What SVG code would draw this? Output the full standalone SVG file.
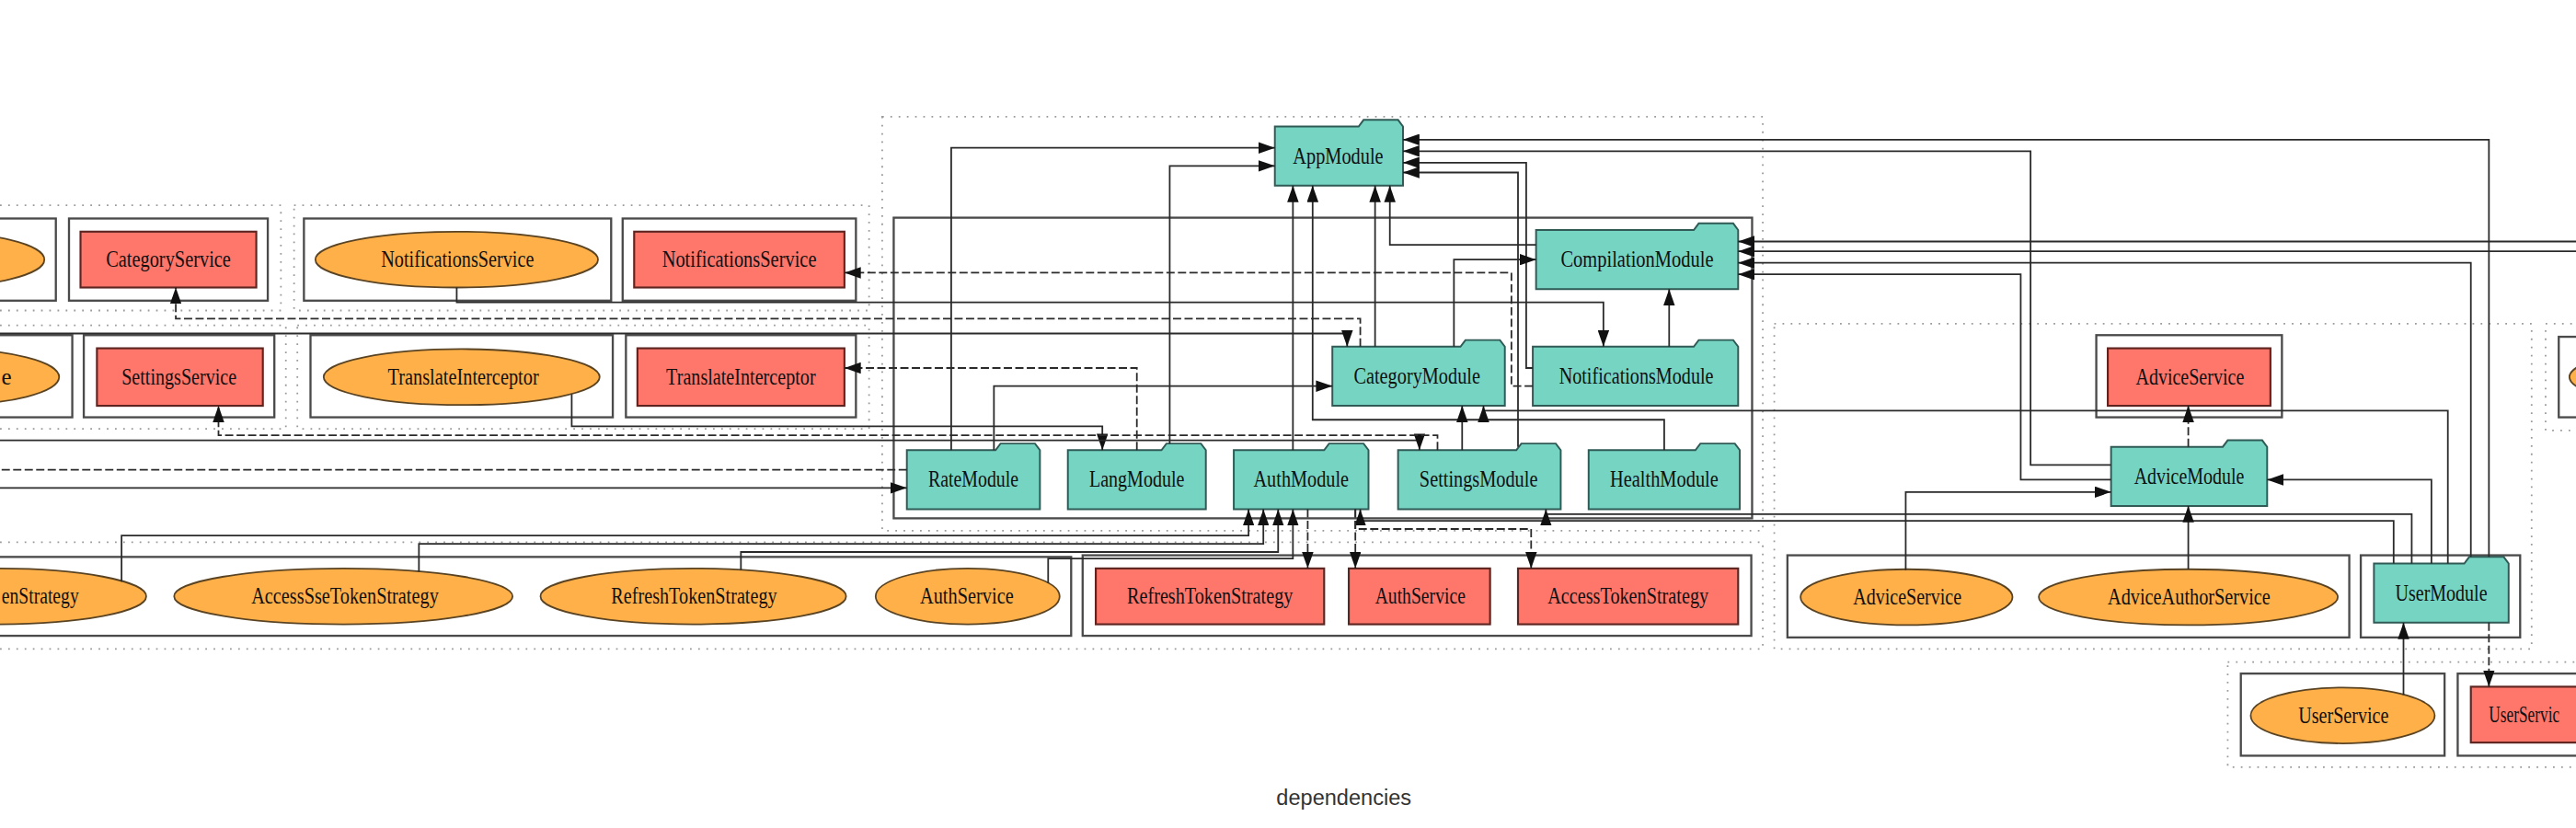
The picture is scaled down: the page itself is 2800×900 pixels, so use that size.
<svg xmlns="http://www.w3.org/2000/svg" width="2800" height="900" viewBox="0 0 2800 900">
<defs>
<style>
.cl{fill:none;stroke:#9a9a9a;stroke-width:1;stroke-dasharray:1 4}
.sr{fill:none;stroke:#4a4a4a;stroke-width:1.3}
.mod{fill:#76d4c3;stroke:#2f5a55;stroke-width:1.1}
.exp{fill:#ff766b;stroke:#5e2520;stroke-width:1.2}
.prv{fill:#ffb049;stroke:#5a4322;stroke-width:1}
.t{font-family:"Liberation Serif","Times New Roman",serif;font-size:14px;fill:#111;text-anchor:middle}
.e{fill:none;stroke:#2a2a2a;stroke-width:1}
.d{stroke-dasharray:5 2}
.lbl{font-family:"Liberation Sans",Arial,sans-serif;font-size:13.2px;fill:#333;text-anchor:middle}
</style>
<marker id="a" markerUnits="userSpaceOnUse" viewBox="0 0 10 7" markerWidth="10" markerHeight="7" refX="10" refY="3.5" orient="auto"><path d="M0,0L10,3.5L0,7z" fill="#111"/></marker>
</defs>
<rect width="2800" height="900" fill="#fff"/>
<g transform="scale(1.785714)">
<g id="clusters">
<rect class="cl" x="-10" y="125" width="181" height="64"/>
<rect class="cl" x="179" y="125" width="350" height="64"/>
<rect class="cl" x="-10" y="198" width="184" height="63"/>
<rect class="cl" x="181" y="198" width="348" height="63"/>
<rect class="cl" x="537" y="71" width="536" height="252"/>
<rect class="cl" x="-10" y="330" width="1083" height="65"/>
<rect class="cl" x="1080" y="197" width="461" height="198"/>
<rect class="cl" x="1549.5" y="197" width="60" height="65"/>
<rect class="cl" x="1356" y="403" width="260" height="64"/>
<rect class="sr" x="-10" y="133" width="44" height="50"/>
<rect class="sr" x="42" y="133" width="121" height="50"/>
<rect class="sr" x="185" y="133" width="187" height="50"/>
<rect class="sr" x="379" y="133" width="142" height="50"/>
<rect class="sr" x="-10" y="204" width="54" height="50"/>
<rect class="sr" x="51" y="204" width="116" height="50"/>
<rect class="sr" x="189" y="204" width="184" height="50"/>
<rect class="sr" x="381" y="204" width="140" height="50"/>
<rect class="sr" x="544" y="132.5" width="522.5" height="183"/>
<rect class="sr" x="-10" y="339" width="662" height="48"/>
<rect class="sr" x="659" y="338" width="407" height="49"/>
<rect class="sr" x="1276" y="204" width="113" height="50"/>
<rect class="sr" x="1088" y="338" width="342" height="50"/>
<rect class="sr" x="1437" y="338" width="97" height="50"/>
<rect class="sr" x="1364" y="410" width="124" height="50"/>
<rect class="sr" x="1496" y="410" width="110" height="50"/>
<rect class="sr" x="1557.5" y="205" width="50" height="49"/>
</g>
<g id="AppModule"><path class="mod" d="M776,77H827L830,73H851L854,77V113H776Z"/><text class="t" x="814.5" y="99.5" textLength="55" lengthAdjust="spacingAndGlyphs">AppModule</text></g>
<g id="CompilationModule"><path class="mod" d="M935,140H1031L1034,136H1055L1058,140V176H935Z"/><text class="t" x="996.5" y="162.5" textLength="93" lengthAdjust="spacingAndGlyphs">CompilationModule</text></g>
<g id="CategoryModule"><path class="mod" d="M811,211H889L892,207H913L916,211V247H811Z"/><text class="t" x="862.5" y="233.5" textLength="77" lengthAdjust="spacingAndGlyphs">CategoryModule</text></g>
<g id="NotificationsModule"><path class="mod" d="M933,211H1031L1034,207H1055L1058,211V247H933Z"/><text class="t" x="996" y="233.5" textLength="94" lengthAdjust="spacingAndGlyphs">NotificationsModule</text></g>
<g id="RateModule"><path class="mod" d="M552,274H606L609,270H630L633,274V310H552Z"/><text class="t" x="592.5" y="296.5" textLength="55" lengthAdjust="spacingAndGlyphs">RateModule</text></g>
<g id="LangModule"><path class="mod" d="M650,274H707L710,270H731L734,274V310H650Z"/><text class="t" x="692" y="296.5" textLength="58" lengthAdjust="spacingAndGlyphs">LangModule</text></g>
<g id="AuthModule"><path class="mod" d="M751,274H806L809,270H830L833,274V310H751Z"/><text class="t" x="792" y="296.5" textLength="58" lengthAdjust="spacingAndGlyphs">AuthModule</text></g>
<g id="SettingsModule"><path class="mod" d="M851,274H923L926,270H947L950,274V310H851Z"/><text class="t" x="900" y="296.5" textLength="72" lengthAdjust="spacingAndGlyphs">SettingsModule</text></g>
<g id="HealthModule"><path class="mod" d="M967,274H1032L1035,270H1056L1059,274V310H967Z"/><text class="t" x="1013" y="296.5" textLength="66" lengthAdjust="spacingAndGlyphs">HealthModule</text></g>
<g id="AdviceModule"><path class="mod" d="M1285,272H1353L1356,268H1377L1380,272V308H1285Z"/><text class="t" x="1332.5" y="294.5" textLength="67" lengthAdjust="spacingAndGlyphs">AdviceModule</text></g>
<g id="UserModule"><path class="mod" d="M1445,343H1500L1503,339H1524L1527,343V379H1445Z"/><text class="t" x="1486" y="365.5" textLength="56" lengthAdjust="spacingAndGlyphs">UserModule</text></g>
<g id="CategoryService-export"><rect class="exp" x="49" y="141" width="107" height="34"/><text class="t" x="102.5" y="162.5" textLength="76" lengthAdjust="spacingAndGlyphs">CategoryService</text></g>
<g id="NotificationsService-export"><rect class="exp" x="386" y="141" width="128" height="34"/><text class="t" x="450" y="162.5" textLength="94" lengthAdjust="spacingAndGlyphs">NotificationsService</text></g>
<g id="SettingsService-export"><rect class="exp" x="59" y="212" width="101" height="35"/><text class="t" x="109" y="234" textLength="70" lengthAdjust="spacingAndGlyphs">SettingsService</text></g>
<g id="TranslateInterceptor-export"><rect class="exp" x="388" y="212" width="126" height="35"/><text class="t" x="451" y="234" textLength="91" lengthAdjust="spacingAndGlyphs">TranslateInterceptor</text></g>
<g id="RefreshTokenStrategy-export"><rect class="exp" x="667" y="346" width="139" height="34"/><text class="t" x="736.5" y="367.5" textLength="101" lengthAdjust="spacingAndGlyphs">RefreshTokenStrategy</text></g>
<g id="AuthService-export"><rect class="exp" x="821" y="346" width="86" height="34"/><text class="t" x="864.5" y="367.5" textLength="55" lengthAdjust="spacingAndGlyphs">AuthService</text></g>
<g id="AccessTokenStrategy-export"><rect class="exp" x="924" y="346" width="134" height="34"/><text class="t" x="991" y="367.5" textLength="98" lengthAdjust="spacingAndGlyphs">AccessTokenStrategy</text></g>
<g id="AdviceService-export"><rect class="exp" x="1283" y="212" width="99" height="35"/><text class="t" x="1333" y="234" textLength="66" lengthAdjust="spacingAndGlyphs">AdviceService</text></g>
<g id="UserService-export"><rect class="exp" x="1504" y="418" width="86" height="34"/><text class="t" x="1515" y="439.5" style="text-anchor:start" textLength="43" lengthAdjust="spacingAndGlyphs">UserServic</text></g>
<g id="CategoryService-provider"><ellipse class="prv" cx="-45" cy="158" rx="72" ry="17"/></g>
<g id="NotificationsService-provider"><ellipse class="prv" cx="278" cy="158" rx="86" ry="17"/><text class="t" x="278.5" y="162.5" textLength="93" lengthAdjust="spacingAndGlyphs">NotificationsService</text></g>
<g id="SettingsService-provider"><ellipse class="prv" cx="-32" cy="229.5" rx="68" ry="17"/><text class="t" x="0.8" y="234" style="text-anchor:start">e</text></g>
<g id="TranslateInterceptor-provider"><ellipse class="prv" cx="281" cy="229.5" rx="84" ry="17"/><text class="t" x="282" y="234" textLength="92" lengthAdjust="spacingAndGlyphs">TranslateInterceptor</text></g>
<g id="AccessTokenStrategy-provider"><ellipse class="prv" cx="-1" cy="363" rx="90" ry="17"/><text class="t" x="48" y="367.5" style="text-anchor:end" textLength="47" lengthAdjust="spacingAndGlyphs">enStrategy</text></g>
<g id="AccessSseTokenStrategy-provider"><ellipse class="prv" cx="209" cy="363" rx="103" ry="17"/><text class="t" x="210" y="367.5" textLength="114" lengthAdjust="spacingAndGlyphs">AccessSseTokenStrategy</text></g>
<g id="RefreshTokenStrategy-provider"><ellipse class="prv" cx="422" cy="363" rx="93" ry="17"/><text class="t" x="422.5" y="367.5" textLength="101" lengthAdjust="spacingAndGlyphs">RefreshTokenStrategy</text></g>
<g id="AuthService-provider"><ellipse class="prv" cx="589" cy="363" rx="56" ry="17"/><text class="t" x="588.5" y="367.5" textLength="57" lengthAdjust="spacingAndGlyphs">AuthService</text></g>
<g id="AdviceService-provider"><ellipse class="prv" cx="1160.5" cy="363.5" rx="64.5" ry="17"/><text class="t" x="1161" y="368" textLength="66" lengthAdjust="spacingAndGlyphs">AdviceService</text></g>
<g id="AdviceAuthorService-provider"><ellipse class="prv" cx="1332" cy="363.5" rx="91" ry="17"/><text class="t" x="1332.5" y="368" textLength="99" lengthAdjust="spacingAndGlyphs">AdviceAuthorService</text></g>
<g id="UserService-provider"><ellipse class="prv" cx="1426" cy="435.5" rx="56" ry="17"/><text class="t" x="1426.5" y="440" textLength="55" lengthAdjust="spacingAndGlyphs">UserService</text></g>
<g id="RightPartial-provider"><ellipse class="prv" cx="1640" cy="229.5" rx="76" ry="17"/></g>
<g id="connectors">
<path class="e" marker-end="url(#a)" d="M579,274V90H776"/>
<path class="e" marker-end="url(#a)" d="M712,270V101H776"/>
<path class="e" marker-end="url(#a)" d="M787,274V113"/>
<path class="e" marker-end="url(#a)" d="M1013,274V255.5H799V113"/>
<path class="e" marker-end="url(#a)" d="M837,211V113"/>
<path class="e" marker-end="url(#a)" d="M935,149H846V113"/>
<path class="e" marker-end="url(#a)" d="M1515,339V85H854"/>
<path class="e" marker-end="url(#a)" d="M1285,283H1236V92H854"/>
<path class="e" marker-end="url(#a)" d="M933,224H929V99H854"/>
<path class="e" marker-end="url(#a)" d="M924,272V105H854"/>
<path class="e" marker-end="url(#a)" d="M885,211V158H935"/>
<path class="e" marker-end="url(#a)" d="M1016,211V176"/>
<path class="e" marker-end="url(#a)" d="M1504,339V160H1058"/>
<path class="e" marker-end="url(#a)" d="M1285,292H1230V167H1058"/>
<path class="e" marker-end="url(#a)" d="M1600,147H1058"/>
<path class="e" marker-end="url(#a)" d="M1600,153H1058"/>
<path class="e" marker-end="url(#a)" d="M605,274V235H811"/>
<path class="e" marker-end="url(#a)" d="M890,274V247"/>
<path class="e" marker-end="url(#a)" d="M1490,343V250H903V247"/>
<path class="e" marker-end="url(#a)" d="M-10,203H820V211"/>
<path class="e" marker-end="url(#a)" d="M278,175V184H976V211"/>
<path class="e" marker-end="url(#a)" d="M348,240V259.5H671V274"/>
<path class="e" marker-end="url(#a)" d="M-10,268H864V274"/>
<path class="e" marker-end="url(#a)" d="M-10,297H552"/>
<path class="e" marker-end="url(#a)" d="M74,354V326H760V310"/>
<path class="e" marker-end="url(#a)" d="M255,348V331H769V310"/>
<path class="e" marker-end="url(#a)" d="M451,347V336H778V310"/>
<path class="e" marker-end="url(#a)" d="M638,355V340H787V310"/>
<path class="e" marker-end="url(#a)" d="M1457,343V317H828V310"/>
<path class="e" marker-end="url(#a)" d="M1468,343V313H941V310"/>
<path class="e" marker-end="url(#a)" d="M1332,346.5V308"/>
<path class="e" marker-end="url(#a)" d="M1160,347V299.5H1285"/>
<path class="e" marker-end="url(#a)" d="M1480,343V292H1380"/>
<path class="e" marker-end="url(#a)" d="M1463,423V379"/>
<path class="e d" marker-end="url(#a)" d="M828,211V194H107V175"/>
<path class="e d" marker-end="url(#a)" d="M933,235H920V166H514"/>
<path class="e d" marker-end="url(#a)" d="M692,274V224H514"/>
<path class="e d" marker-end="url(#a)" d="M875,274V265H133V247"/>
<path class="e d" d="M552,286H-10"/>
<path class="e d" marker-end="url(#a)" d="M796,310V346"/>
<path class="e d" marker-end="url(#a)" d="M825,310V346"/>
<path class="e d" marker-end="url(#a)" d="M825,310V322H932V346"/>
<path class="e d" marker-end="url(#a)" d="M1332,272V247"/>
<path class="e d" marker-end="url(#a)" d="M1515,379V418"/>
</g>
<text class="lbl" x="818" y="490">dependencies</text>
</g>
</svg>
